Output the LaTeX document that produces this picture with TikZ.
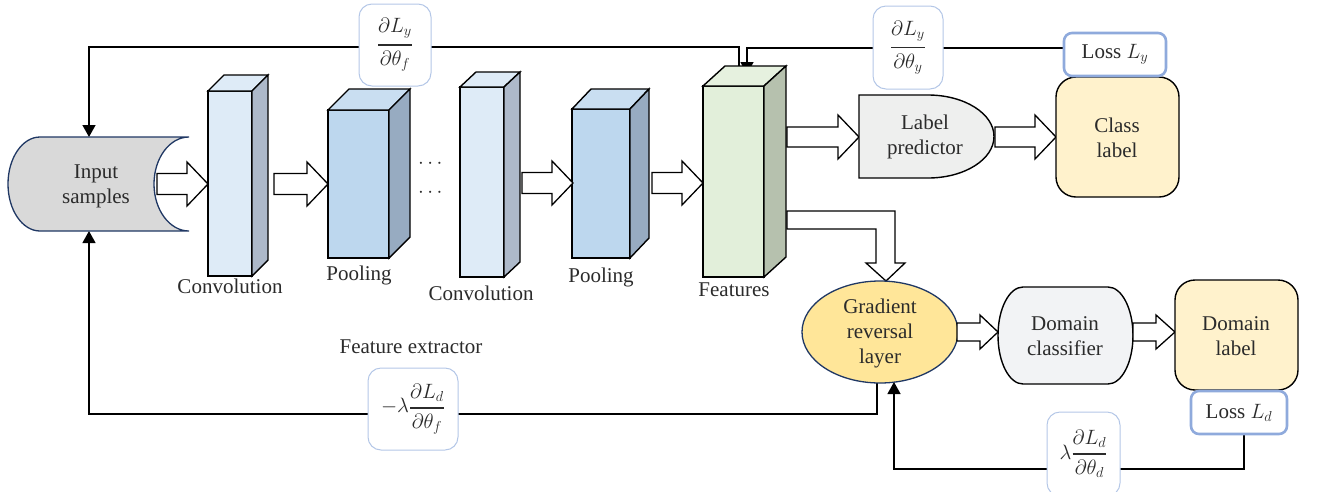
\documentclass[tikz,border=0pt]{standalone}
\usepackage{amsmath}
\usepackage{fontspec}
\setmainfont{Liberation Serif}
\usetikzlibrary{arrows.meta}
\definecolor{txtc}{HTML}{2B2B2B}
\definecolor{navy}{HTML}{203864}
\definecolor{inputc}{HTML}{D9D9D9}
\definecolor{convF}{HTML}{DEEBF7}
\definecolor{convT}{HTML}{DEEBF7}
\definecolor{convS}{HTML}{ADB9CA}
\definecolor{poolF}{HTML}{BDD7EE}
\definecolor{poolT}{HTML}{C9DEF1}
\definecolor{poolS}{HTML}{97ABC1}
\definecolor{featF}{HTML}{E2EFDA}
\definecolor{featT}{HTML}{E6F1DF}
\definecolor{featS}{HTML}{B6C1AE}
\definecolor{lpc}{HTML}{EEEFEE}
\definecolor{yel}{HTML}{FFF2CC}
\definecolor{grlc}{HTML}{FFE699}
\definecolor{dcc}{HTML}{F2F3F5}
\definecolor{gradc}{HTML}{B4C7E7}
\definecolor{lossc}{HTML}{8FAADC}
\newcommand\prism[9]{%
  \filldraw[shp,fill=#7] (#1,#3) rectangle (#2,#4);
  \filldraw[shp,fill=#9] (#1,#3) -- ({#1+#5},{#3-#6}) -- ({#2+#5},{#3-#6}) -- (#2,#3) -- cycle;
  \filldraw[shp,fill=#8] (#2,#3) -- ({#2+#5},{#3-#6}) -- ({#2+#5},{#4-#6}) -- (#2,#4) -- cycle;
}
% block arrow: x0, x1, y, shaft half, head half, head length
\newcommand\harrow[6]{%
  \draw[blk] (#1,{#3-#4}) -- ({#2-#6},{#3-#4}) -- ({#2-#6},{#3-#5}) -- (#2,#3)
    -- ({#2-#6},{#3+#5}) -- ({#2-#6},{#3+#4}) -- (#1,{#3+#4}) -- cycle;
}
\newcommand\gfrac[2]{\genfrac{}{}{1.8pt}{0}{#1}{#2}}
\begin{document}
\begin{tikzpicture}[x=1pt,y=-1pt,
  txt/.style={font=\fontsize{21}{25}\selectfont, align=center, text=txtc, inner sep=0pt},
  conn/.style={line width=1.3pt, draw=black},
  tip/.style={-{Triangle[width=13pt,length=12pt]}},
  grad/.style={draw=gradc, line width=1pt, rounded corners=13pt, fill=white,
    font=\fontsize{21}{25}\selectfont, text=txtc, inner sep=0pt},
  loss/.style={draw=lossc, line width=2.6pt, rounded corners=8pt, fill=white,
    font=\fontsize{21}{25}\selectfont, text=txtc, inner sep=0pt},
  blk/.style={draw=black, line width=1.3pt, fill=white, miter limit=10},
  shp/.style={draw=black, line width=1.4pt, line join=miter}]
\useasboundingbox (0,0) rectangle (1328,491);

% ---------- feedback connectors ----------
\coordinate (ftA) at (739,73);
\coordinate (ftB) at (747,74);
\coordinate (inTop) at (89,137);
\coordinate (inBot) at (89,231);
\coordinate (grlS) at (877,383);
\coordinate (grlS2) at (894,382);
\coordinate (lossyW) at (1064,48);
\coordinate (lossdS) at (1244,434);
\draw[conn,tip] (ftA) -- ++(0,-26) -| (inTop);
\draw[conn,tip] (lossyW) -| (ftB);
\draw[conn,tip] (grlS) -- ++(0,31) -| (inBot);
\draw[conn,tip] (lossdS) -- ++(0,35) -| (grlS2);

% ---------- input samples ----------
\filldraw[draw=navy, line width=1.3pt, fill=inputc]
  (40,137) -- (189,137) arc[start angle=270, end angle=90, x radius=35, y radius=47]
  -- (40,231) arc[start angle=90, end angle=270, x radius=32, y radius=47] -- cycle;
\node[txt] (in) at (96,186) {Input\\samples};

% ---------- feature extractor ----------
\prism{208}{252}{91}{276}{16}{16}{convF}{convS}{convT}
\prism{328}{389}{110}{258}{21}{21}{poolF}{poolS}{poolT}
\prism{460}{504}{87}{277}{16}{15}{convF}{convS}{convT}
\prism{572}{630}{109}{258}{19}{20}{poolF}{poolS}{poolT}
\prism{703}{764}{86}{277}{22}{20}{featF}{featS}{featT}

\node[txt, anchor=base] (l1) at (230,293) {Convolution};
\node[txt, anchor=base] (l2) at (359,280) {Pooling};
\node[txt, anchor=base] (l3) at (481,300) {Convolution};
\node[txt, anchor=base] (l4) at (601,282) {Pooling};
\node[txt, anchor=base] (l5) at (734,296) {Features};
\node[txt, anchor=base] (l6) at (411,353) {Feature extractor};
\node[txt] (d1) at (432,164) {$\cdots$};
\node[txt] (d2) at (432,193) {$\cdots$};

\harrow{157}{208}{184}{10.5}{22}{21}
\harrow{274}{328}{184}{10.5}{22}{21}
\harrow{522}{573}{183}{10.5}{22}{21}
\harrow{652}{703}{183}{10.5}{22}{21}
\harrow{787}{859}{137}{10}{22}{21}

% bent arrow to gradient reversal layer
\draw[blk] (787,211) -- (895,211) -- (895,263) -- (905,263) -- (886,281) -- (866,263)
  -- (876,263) -- (876,229) -- (787,229) -- cycle;

% ---------- label predictor ----------
\filldraw[shp, fill=lpc] (859,95) -- (928,95)
  arc[start angle=270, end angle=450, x radius=66, y radius=41.5] -- (859,178) -- cycle;
\node[txt] (lp) at (925,137) {Label\\predictor};
\harrow{995}{1056}{137}{10}{22}{21}
\filldraw[shp, fill=yel, rounded corners=20pt] (1056,77) rectangle (1179,197);
\node[txt] (cl) at (1117,138) {Class\\label};
\node[loss, minimum width=102pt, minimum height=43pt] (lossy) at (1115,54.5) {Loss $L_y$};

% ---------- domain branch ----------
\filldraw[draw=navy, line width=1.3pt, fill=grlc] (880,332) ellipse [x radius=78, y radius=51];
\node[txt] (grl) at (880,333) {Gradient\\reversal\\layer};
\harrow{957}{998}{332}{9}{17}{18}
\filldraw[shp, fill=dcc] (1023,287) -- (1108,287)
  arc[start angle=270, end angle=450, x radius=25, y radius=48.5] -- (1023,384)
  arc[start angle=90, end angle=270, x radius=25, y radius=48.5] -- cycle;
\node[txt] (dc) at (1065,336) {Domain\\classifier};
\harrow{1133}{1175}{332}{9}{17}{19}
\filldraw[shp, fill=yel, rounded corners=20pt] (1175,280) rectangle (1298,390);
\node[txt] (dl) at (1236,336) {Domain\\label};
\node[loss, minimum width=96pt, minimum height=43pt] (lossd) at (1239,412.5) {Loss $L_d$};

% ---------- gradient labels ----------
\node[grad, minimum width=72pt, minimum height=82pt] (gyf) at (395,45)
  {$\gfrac{\partial L_y}{\partial \theta_f}$};
\node[grad, minimum width=70pt, minimum height=83pt] (gyy) at (908,47.5)
  {$\gfrac{\partial L_y}{\partial \theta_y}$};
\node[grad, minimum width=90pt, minimum height=82pt] (gdf) at (413,409)
  {$-\lambda\gfrac{\partial L_d}{\partial \theta_f}$};
\node[grad, minimum width=73pt, minimum height=84pt] (gdd) at (1083.5,454)
  {$\lambda\gfrac{\partial L_d}{\partial \theta_d}$};
\end{tikzpicture}
\end{document}
